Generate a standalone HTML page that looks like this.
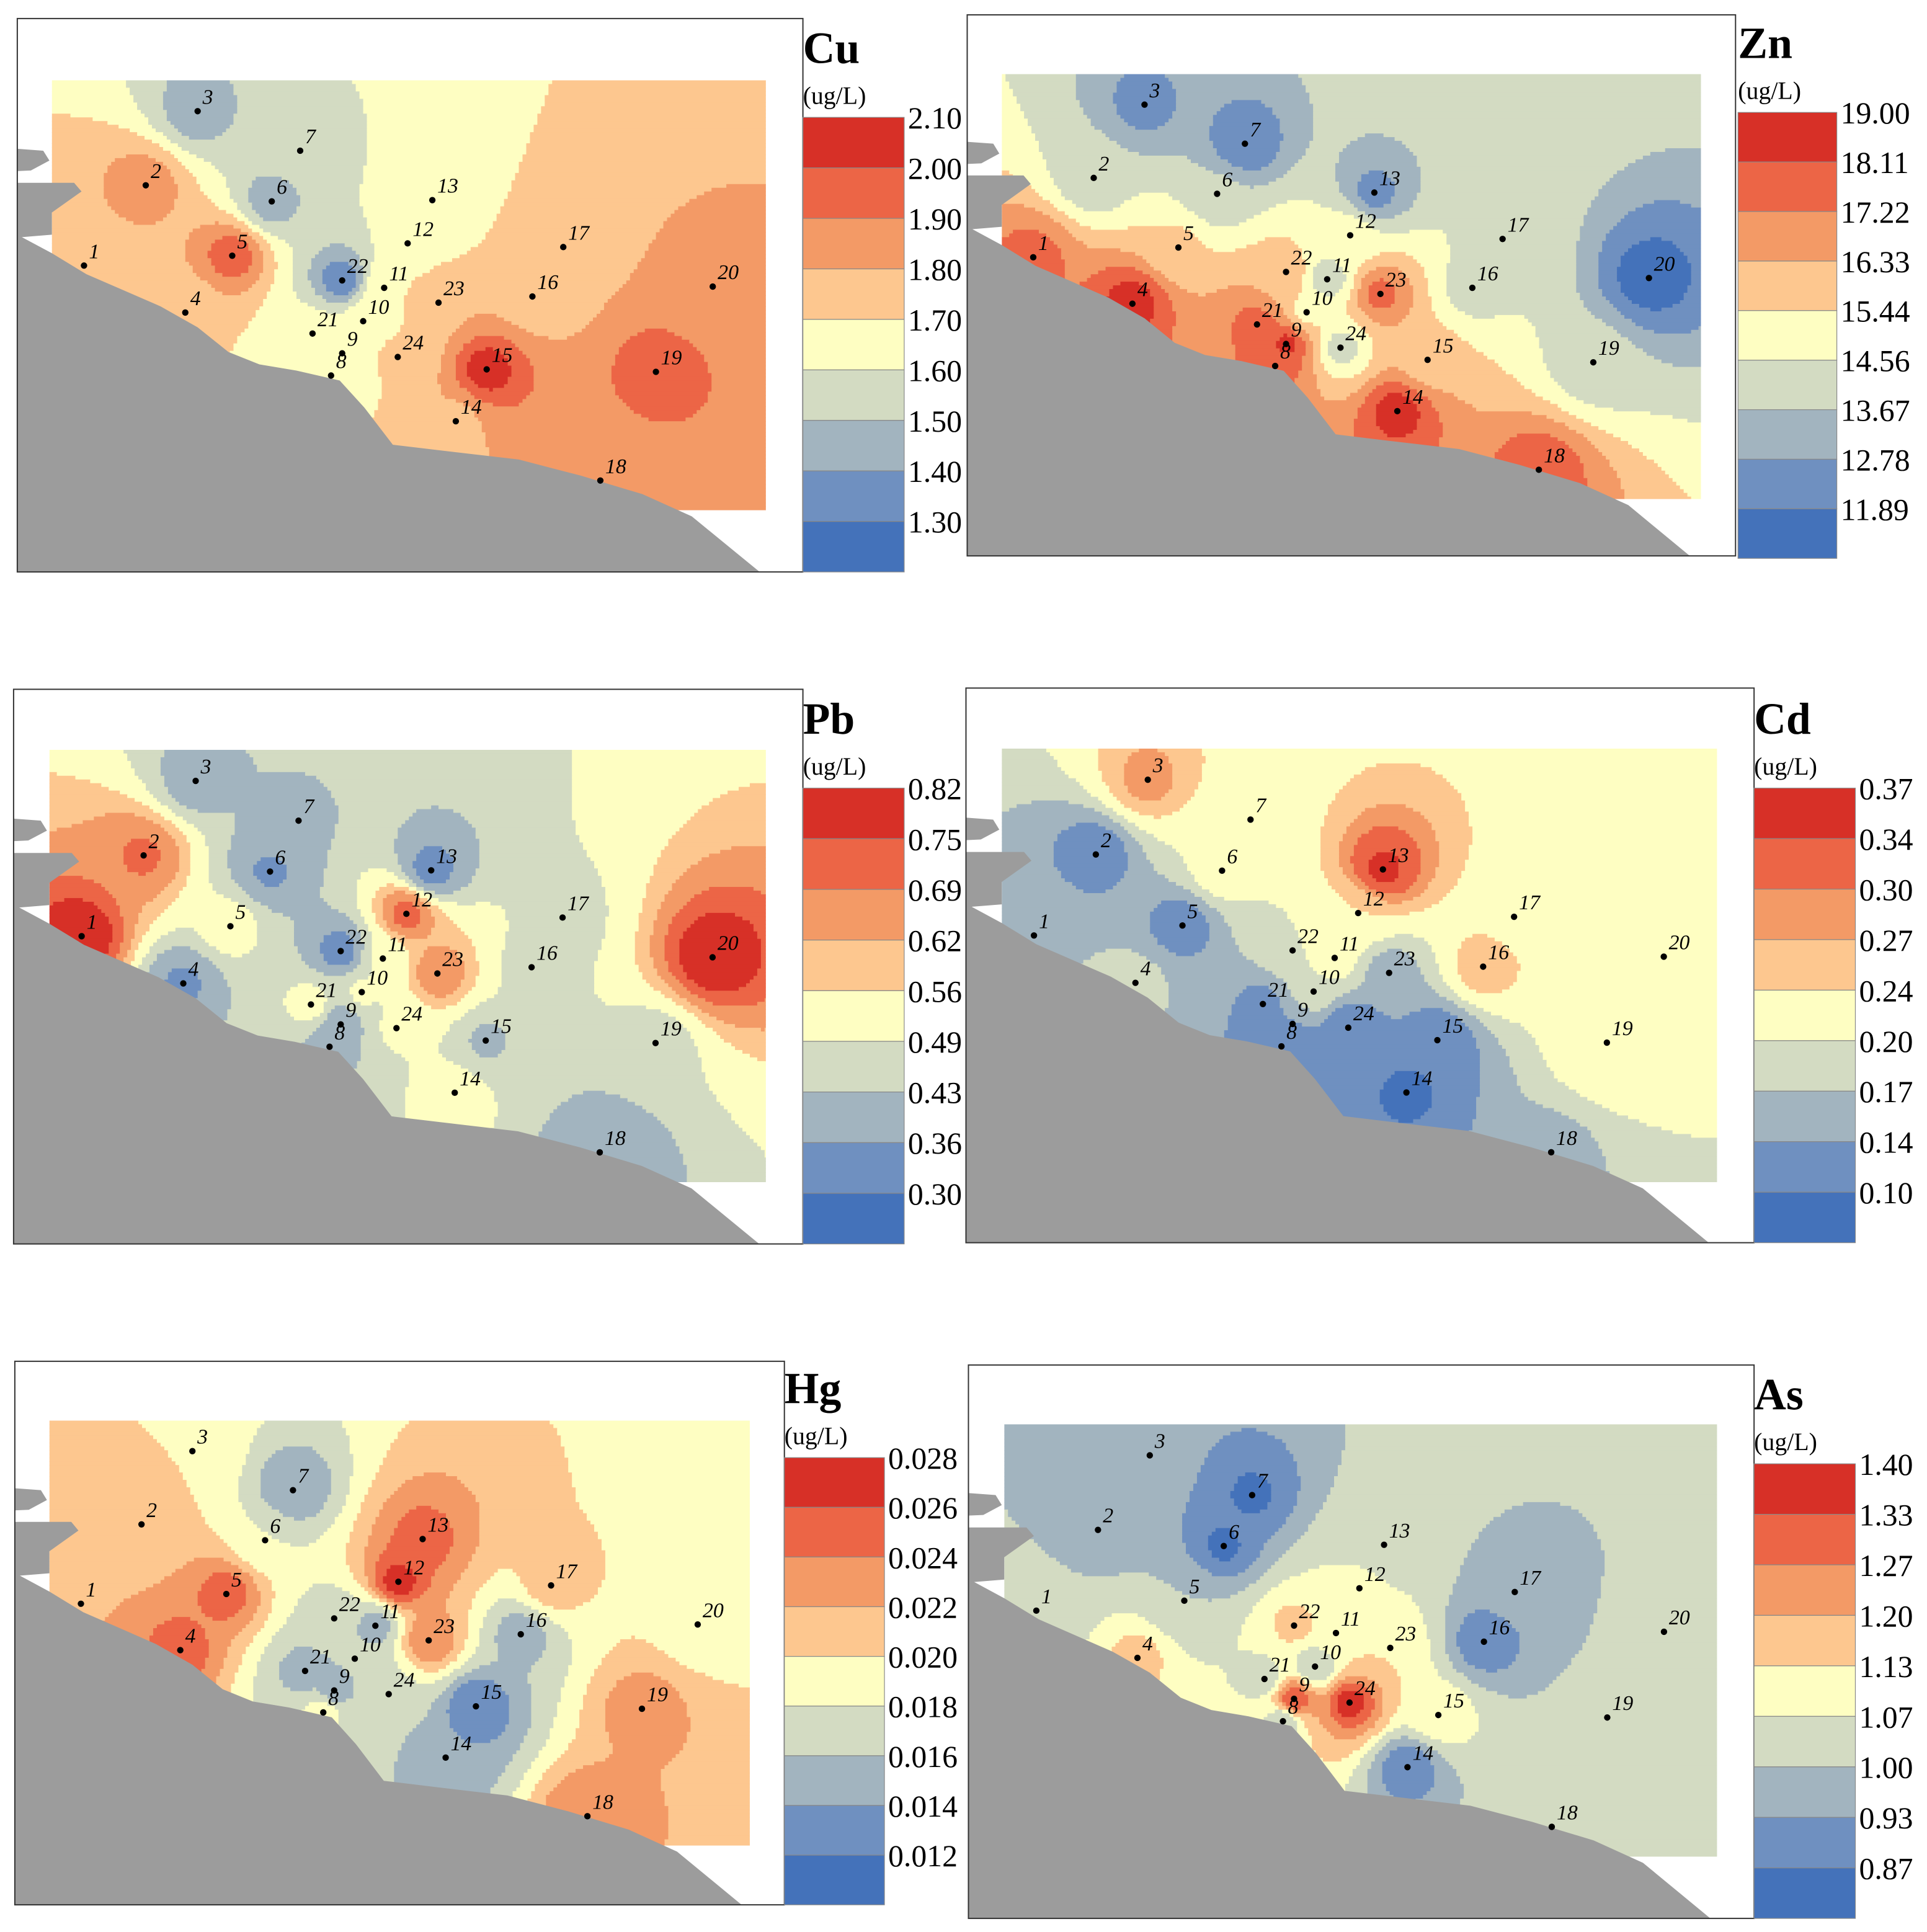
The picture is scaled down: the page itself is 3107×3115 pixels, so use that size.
<!DOCTYPE html>
<html><head><meta charset="utf-8"><style>
html,body{margin:0;padding:0;background:#fff}
svg{display:block}
text{font-family:"Liberation Serif",serif}
</style></head><body>
<svg id="fig" width="3107" height="3115" viewBox="0 0 1560 1564" xmlns="http://www.w3.org/2000/svg"></svg>
<script>
const stationIds=['1','2','3','4','5','6','7','8','9','10','11','12','13','14','15','16','17','18','19','20','21','22','23','24'];
// station positions read in Cu panel pixel space (map region 42..620 x 65..413)
const stationX=[68,118,160,150,188,220,243,268,277,294,311,330,350,369,394,431,456,486,531,577,253,277,355,322];
const stationY=[215,150,90,253,207,163,122,304,286,260,233,197,162,341,299,240,200,389,301,232,270,227,245,289];
const cuValues=[1.75,1.85,1.45,1.72,1.95,1.45,1.55,1.68,1.65,1.65,1.70,1.62,1.62,1.78,2.05,1.75,1.76,1.82,1.95,1.84,1.65,1.32,1.80,1.72];
const znValues=[17.5,14.0,12.5,18.5,15.6,13.8,12.0,17.5,18.3,15.2,14.0,15.0,12.5,18.5,15.8,14.2,14.0,17.8,14.0,11.5,17.5,16.0,17.5,14.2];
const pbValues=[0.80,0.70,0.40,0.35,0.52,0.35,0.42,0.40,0.38,0.50,0.50,0.72,0.33,0.52,0.42,0.47,0.47,0.36,0.46,0.80,0.52,0.32,0.68,0.50];
const cdValues=[0.17,0.12,0.28,0.18,0.12,0.22,0.23,0.10,0.14,0.20,0.22,0.24,0.35,0.09,0.11,0.26,0.23,0.16,0.24,0.23,0.13,0.20,0.15,0.10];
const hgValues=[0.022,0.021,0.020,0.025,0.025,0.018,0.014,0.019,0.015,0.016,0.015,0.027,0.025,0.014,0.012,0.015,0.021,0.024,0.023,0.019,0.015,0.017,0.024,0.017];
const asValues=[1.02,0.97,0.95,1.15,1.00,0.86,0.86,1.02,1.33,1.00,1.12,1.08,1.03,0.88,1.12,0.88,0.95,1.02,1.02,1.02,1.03,1.15,1.13,1.36];
const cuTicks=['2.10','2.00','1.90','1.80','1.70','1.60','1.50','1.40','1.30'];
const znTicks=['19.00','18.11','17.22','16.33','15.44','14.56','13.67','12.78','11.89'];
const pbTicks=['0.82','0.75','0.69','0.62','0.56','0.49','0.43','0.36','0.30'];
const cdTicks=['0.37','0.34','0.30','0.27','0.24','0.20','0.17','0.14','0.10'];
const hgTicks=['0.028','0.026','0.024','0.022','0.020','0.018','0.016','0.014','0.012'];
const asTicks=['1.40','1.33','1.27','1.20','1.13','1.07','1.00','0.93','0.87'];

const colors=['#d73027','#ec6546','#f39a66','#fdc78f','#fefec2','#d3dbc2','#a2b4bf','#6f90c0','#4472ba'];
const NS='http://www.w3.org/2000/svg';
const svg=document.getElementById('fig');
function mk(tag,attrs,parent){const e=document.createElementNS(NS,tag);for(const k in attrs)e.setAttribute(k,attrs[k]);(parent||svg).appendChild(e);return e;}

const panels=[
 {key:'cu',title:'Cu',vals:cuValues,ticks:cuTicks,frame:[14,15,650,463],map:[42,65,620,413],bar:[650,95,732,463]},
 {key:'zn',title:'Zn',vals:znValues,ticks:znTicks,frame:[783,12,1405,450],map:[811,60,1377,404],bar:[1407,91,1487,452]},
 {key:'pb',title:'Pb',vals:pbValues,ticks:pbTicks,frame:[11,558,650,1007],map:[40,607,620,957],bar:[650,638,732,1007]},
 {key:'cd',title:'Cd',vals:cdValues,ticks:cdTicks,frame:[782,557,1420,1006],map:[811,606,1390,957],bar:[1420,638,1502,1006]},
 {key:'hg',title:'Hg',vals:hgValues,ticks:hgTicks,frame:[12,1102,635,1542],map:[40,1150,607,1494],bar:[635,1180,716,1542]},
 {key:'as',title:'As',vals:asValues,ticks:asTicks,frame:[784,1105,1420,1553],map:[813,1153,1390,1503],bar:[1420,1185,1502,1553]}
];
// coast in Cu pixel space
const coast=[[-20,190],[14,190],[42,205],[70,222],[100,235],[130,248],[160,265],[185,285],[210,295],[240,300],[275,308],[295,330],[318,360],[360,365],[420,372],[470,385],[520,400],[560,418],[615,463],[660,490],[660,520],[-20,520]];
const pen1=[[-20,118],[35,122],[40,130],[25,138],[-20,140]];
const pen2=[[-20,148],[60,148],[66,155],[42,172],[42,190],[-20,195]];
const CU={x0:42,y0:65,w:578,h:348};

function binOf(v,ticks){const t=ticks.map(Number);for(let i=1;i<t.length;i++){if(v>=t[i])return i-1;}return 8;}

panels.forEach((p,pi)=>{
 const g=mk('g',{});
 
 
 const [fx0,fy0,fx1,fy1]=p.frame,[mx0,my0,mx1,my1]=p.map;
 const sx=(mx1-mx0)/CU.w, sy=(my1-my0)/CU.h;
 const tx=x=>mx0+(x-CU.x0)*sx, ty=y=>my0+(y-CU.y0)*sy;
 const cp=mk('clipPath',{id:'clip'+pi},g);
 mk('rect',{x:fx0,y:fy0,width:fx1-fx0,height:fy1-fy0},cp);
 const inner=mk('g',{'clip-path':'url(#clip'+pi+')'},g);
 const mc=mk('clipPath',{id:'mclip'+pi},g);
 mk('rect',{x:mx0,y:my0,width:mx1-mx0,height:my1-my0},mc);
 const field=mk('g',{'clip-path':'url(#mclip'+pi+')'},inner);
 
 
 const px=stationX.map(tx), py=stationY.map(ty);
 const cs=3;
 function valAt(cx,cy){let sw=0,sv=0;
  for(let i=0;i<px.length;i++){const dx=cx-px[i],dy=cy-py[i];const d2=dx*dx+dy*dy;if(d2<1)return p.vals[i];const w=1/Math.pow(d2,1.35);sw+=w;sv+=w*p.vals[i];}
  return sv/sw;}
 for(let y=my0;y<my1;y+=cs){
  let runStart=mx0,runBin=-1,x;
  for(x=mx0;x<mx1;x+=cs){
   const b=binOf(valAt(x+cs/2,y+cs/2),p.ticks);
   if(b!==runBin){
    if(runBin>=0)mk('rect',{x:runStart,y:y,width:x-runStart+0.4,height:cs+0.4,fill:colors[runBin]},field);
    runStart=x;runBin=b;
   }
  }
  if(runBin>=0)mk('rect',{x:runStart,y:y,width:x-runStart+0.4,height:cs+0.4,fill:colors[runBin]},field);
 }
 const toPts=arr=>arr.map(q=>tx(q[0]).toFixed(1)+','+ty(q[1]).toFixed(1)).join(' ');
 [coast,pen1,pen2].forEach((poly,k)=>{
  const l=mk('polygon',{points:toPts(poly),fill:'#9c9c9c'},inner);
  
  
 });
 const fr=mk('rect',{x:fx0,y:fy0,width:fx1-fx0,height:fy1-fy0,fill:'none',stroke:'#333','stroke-width':1},g);
 
 
 for(let i=0;i<px.length;i++){
  const c=mk('circle',{cx:px[i],cy:py[i],r:2.6,fill:'#000'},g);
  
  
  const t=mk('text',{x:px[i]+4,y:py[i]-6,'font-size':17,'font-style':'italic',fill:'#000'},g);
  t.textContent=stationIds[i];
  
  
 }
 const [bx0,by0,bx1,by1]=p.bar;const bh=(by1-by0)/9;
 const cb=mk('g',{},g);
 
 
 for(let i=0;i<9;i++){
  const r=mk('rect',{x:bx0,y:by0+i*bh,width:bx1-bx0,height:bh,fill:colors[i],stroke:'#888','stroke-width':0.6},cb);
  
  
  const t=mk('text',{x:bx1+3,y:by0+i*bh+9,'font-size':25,fill:'#000'},cb);
  t.textContent=p.ticks[i];
  
  
 }
 const tt=mk('text',{x:bx0,y:by0-44,'font-size':36,'font-weight':'bold',fill:'#000'},g);
 tt.textContent=p.title;
 
 
 const ut=mk('text',{x:bx0,y:by0-11,'font-size':20,fill:'#000'},g);
 ut.textContent='(ug/L)';
 
 
});
</script>
</body></html>
